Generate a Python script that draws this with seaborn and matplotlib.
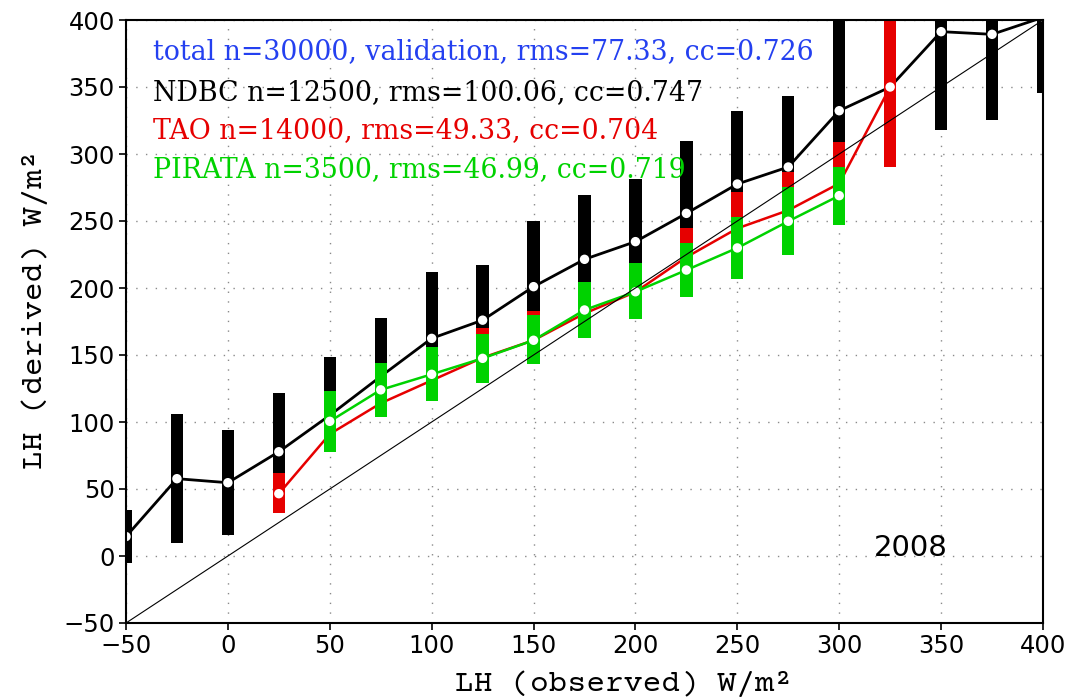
import numpy as np
import pandas as pd
import matplotlib
matplotlib.use("Agg")
import matplotlib.pyplot as plt
import seaborn as sns

# ---------------- data ----------------
obs_ndbc = [-50, -25, 0, 25, 50, 75, 100, 125, 150, 175, 200, 225, 250, 275, 300, 325, 350, 375, 400]
ndbc_mid = [14.5, 57.7, 54.7, 77.8, 105, 134, 162.4, 176, 201, 221.4, 234.6, 255.7, 277.6, 290.3, 332.3, 350, 391.3, 389.3, 402]
ndbc_top = [34.3, 106, 94, 122, 148.7, 177.4, 211.7, 217, 250, 269.4, 281, 309.7, 332.3, 343.3, 420, 420, 420, 420, 420]
ndbc_bot = [-5, 9.5, 15.7, 45, 100, 135, 150, 160, 175, 200, 210, 225, 245, 270, 285, 300, 318, 325.4, 345.7]

obs_tao = [25, 50, 75, 100, 125, 150, 175, 200, 225, 250, 275, 300, 325]
tao_mid = [46.5, 91, 114, 131, 148, 161, 181, 197, 223, 244.5, 258, 278, 350]
tao_top = [61.7, 118, 140, 152, 170, 183, 200, 214, 244.5, 271.4, 286.8, 309.2, 420]
tao_bot = [32.3, 85, 108, 120, 133, 148, 168, 181, 198, 212, 230, 252, 290.5]

obs_pir = [50, 75, 100, 125, 150, 175, 200, 225, 250, 275, 300]
pir_mid = [100.5, 124, 135.6, 147.5, 161, 183.6, 197.2, 213.4, 229.9, 249.8, 268.9]
pir_top = [123, 144.3, 156.2, 165.7, 180, 204.7, 218.4, 233.3, 253.2, 275.6, 290.5]
pir_bot = [77.8, 103.5, 115.7, 128.9, 143, 163, 176.6, 193.5, 207, 224.9, 247.3]

stats_lines = [
    "total n=30000, validation, rms=77.33, cc=0.726",
    "NDBC n=12500, rms=100.06, cc=0.747",
    "TAO n=14000, rms=49.33, cc=0.704",
    "PIRATA n=3500, rms=46.99, cc=0.719",
]
year_label = "2008"
x_ticks = [-50, 0, 50, 100, 150, 200, 250, 300, 350, 400]
y_ticks = [-50, 0, 50, 100, 150, 200, 250, 300, 350, 400]

BLACK = "#000000"
RED = "#e60000"
GREEN = "#00d200"
BLUE = "#2440f0"

# ---------------- figure ----------------
sns.set_theme(style="white")
plt.rcParams["font.family"] = ["DejaVu Sans"]

fig = plt.figure(figsize=(10.72, 6.97), dpi=100)
ax = fig.add_axes([126 / 1072, 74 / 697, 917 / 1072, 603 / 697])

series = [
    (obs_ndbc, ndbc_mid, ndbc_top, ndbc_bot, BLACK, 2.0, 2),
    (obs_tao, tao_mid, tao_top, tao_bot, RED, 1.8, 5),
    (obs_pir, pir_mid, pir_top, pir_bot, GREEN, 1.8, 8),
]
for xs, mid, top, bot, col, lw, z in series:
    df = pd.DataFrame({"obs": xs, "mid": mid, "top": top, "bot": bot})
    ax.bar(df["obs"], df["top"] - df["bot"], bottom=df["bot"], width=6,
           color=col, edgecolor="none", zorder=z)
    sns.lineplot(data=df, x="obs", y="mid", ax=ax, color=col, lw=lw,
                 zorder=z + 0.5, legend=False)
    sns.scatterplot(data=df, x="obs", y="mid", ax=ax, color="white", s=46,
                    edgecolor="none", zorder=z + 1, legend=False)

# 1:1 reference line
ax.plot([-50, 400], [-50, 400], color="black", lw=0.8, zorder=12)

ax.set_xlim(-50, 400)
ax.set_ylim(-50, 400)
ax.set_xticks(x_ticks)
ax.set_yticks(y_ticks)
ax.set_xticklabels([str(v).replace("-", "\u2212") for v in x_ticks])
ax.set_yticklabels([str(v).replace("-", "\u2212") for v in y_ticks])

ax.grid(True, color="#8a8a8a", linestyle=(0, (1, 6)), lw=1.0)
ax.set_axisbelow(True)
for sp in ax.spines.values():
    sp.set_color("black")
    sp.set_linewidth(1.5)
    sp.set_zorder(20)

ax.tick_params(axis="both", which="major", direction="out", length=5, width=1.2,
               pad=3, labelsize=17.5, colors="black", bottom=True, left=True,
               top=False, right=False)

mono = ["Courier Prime", "TeX Gyre Cursor", "DejaVu Sans Mono"]
ax.set_xlabel("LH (observed) W/m\u00b2", fontsize=22.5, family=mono,
              va="baseline", color="black")
ax.xaxis.set_label_coords(0.543, -0.1128)
ax.set_ylabel("LH (derived) W/m\u00b2", fontsize=22.5, family=mono,
              va="center", color="black")
ax.yaxis.set_label_coords(-0.099, 0.519)

colors = [BLUE, BLACK, RED, GREEN]
base_y = [371, 340.3, 312, 282.8]
for txt, c, yv in zip(stats_lines, colors, base_y):
    ax.text(-36.8, yv, txt, color=c, fontsize=19.3, family=["DejaVu Serif"],
            va="baseline", ha="left", zorder=15)

ax.text(335, 6, year_label, fontsize=21, ha="center", va="center",
        color="black", zorder=15)

fig.savefig("out.png", dpi=100)
